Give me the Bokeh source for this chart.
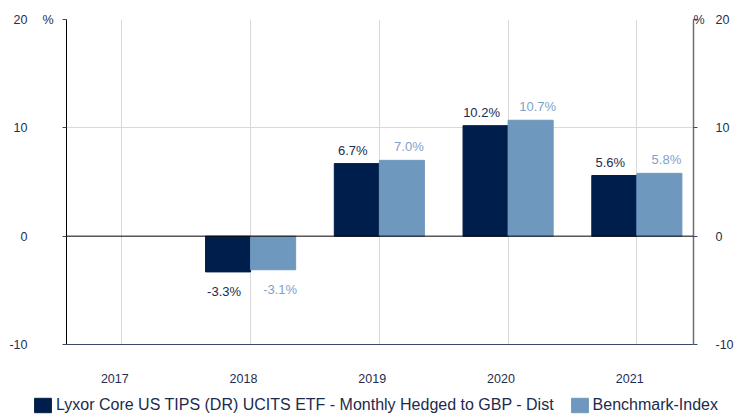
from bokeh.plotting import figure
from bokeh.layouts import column
from bokeh.models import (Range1d, LinearAxis, FixedTicker, CustomJSTickFormatter,
                          Span, Legend, LegendItem, ColumnDataSource)
from bokeh.transform import dodge
from bokeh.core.properties import value
from bokeh.embed import file_html
from bokeh.resources import INLINE

# ---- data ----
years = ["2017", "2018", "2019", "2020", "2021"]
fund_name = "Lyxor Core US TIPS (DR) UCITS ETF - Monthly Hedged to GBP - Dist"
bench_name = "Benchmark-Index"
fund = [None, -3.3, 6.7, 10.2, 5.6]
bench = [None, -3.1, 7.0, 10.7, 5.8]
y_ticks = [-10, 0, 10, 20]

DARK = "#001e4b"
LIGHT = "#6f98bf"
DARK_TXT = "#1b2b4d"
LIGHT_TXT = "#7fa0c9"
AXIS_TXT = "#1f2d50"
FONT = "Liberation Sans"

idx = [i for i, v in enumerate(fund) if v is not None]
src = ColumnDataSource(dict(
    x=idx,
    fund=[fund[i] for i in idx],
    bench=[bench[i] for i in idx],
))

def label_src(vals, positive):
    xs, ys, ts = [], [], []
    for i, v in enumerate(vals):
        if v is None:
            continue
        if (v >= 0) == positive:
            xs.append(i); ys.append(v); ts.append(f"{v:.1f}%")
    return ColumnDataSource(dict(x=xs, y=ys, t=ts))

p = figure(width=736, height=396, output_backend="svg", toolbar_location=None,
           x_range=Range1d(-0.43, 4.44), y_range=Range1d(-10, 20),
           min_border_left=66, min_border_right=42, min_border_top=19,
           min_border_bottom=52)
p.outline_line_color = None
p.background_fill_color = "white"
p.border_fill_color = "white"
p.frame_align = False

# grids
p.xgrid[0].ticker = FixedTicker(ticks=list(range(len(years))))
p.ygrid[0].ticker = FixedTicker(ticks=[10, 20])
for g in (p.xgrid[0], p.ygrid[0]):
    g.grid_line_color = "#d9d9d9"
    g.grid_line_width = 1

# bottom axis (years)
xa = p.xaxis[0]
xa.ticker = FixedTicker(ticks=[i - 0.055 for i in range(len(years))])
xa.formatter = CustomJSTickFormatter(args=dict(labels=years),
                                     code="return labels[Math.round(tick)];")
xa.major_tick_line_color = None
xa.minor_tick_line_color = None
xa.axis_line_color = "#3a4868"
xa.major_label_standoff = 23
xa.major_label_text_font = FONT
xa.major_label_text_font_size = "12.5px"
xa.major_label_text_color = AXIS_TXT

pct_fmt = CustomJSTickFormatter(code="return tick == 20 ? '%' : '';")
num_fmt = CustomJSTickFormatter(code="return String(tick);")

# left inner axis (line, ticks, '%')
ya = p.yaxis[0]
ya.ticker = FixedTicker(ticks=y_ticks)
ya.formatter = pct_fmt
ya.axis_line_color = "black"
ya.major_tick_line_color = "#3a4868"
ya.major_tick_out = 4
ya.major_tick_in = 0
ya.minor_tick_line_color = None
ya.major_label_standoff = 9
ya.major_label_text_font = FONT
ya.major_label_text_font_size = "12.5px"
ya.major_label_text_color = AXIS_TXT

def num_axis(standoff):
    a = LinearAxis(ticker=FixedTicker(ticks=y_ticks), formatter=num_fmt)
    a.axis_line_color = None
    a.major_tick_line_color = None
    a.minor_tick_line_color = None
    a.major_tick_out = 0
    a.major_tick_in = 0
    a.major_label_standoff = standoff
    a.major_label_text_font = FONT
    a.major_label_text_font_size = "12.5px"
    a.major_label_text_color = AXIS_TXT
    return a

p.add_layout(num_axis(12), "left")

# right inner axis
ra = LinearAxis(ticker=FixedTicker(ticks=y_ticks), formatter=pct_fmt)
ra.axis_line_color = "#6f6f6f"
ra.axis_line_width = 1.5
ra.major_tick_line_color = "#3a4868"
ra.major_tick_out = 4
ra.major_tick_in = 0
ra.major_label_standoff = -4
ra.minor_tick_line_color = None
ra.major_label_text_font = FONT
ra.major_label_text_font_size = "12.5px"
ra.major_label_text_color = AXIS_TXT
p.add_layout(ra, "right")
p.add_layout(num_axis(8), "right")

# bars
W = 0.35
r1 = p.vbar(x=dodge("x", -W / 2, range=p.x_range), top="fund", bottom=0, width=W,
            source=src, fill_color=DARK, line_color=DARK)
r2 = p.vbar(x=dodge("x", W / 2, range=p.x_range), top="bench", bottom=0, width=W,
            source=src, fill_color=LIGHT, line_color=LIGHT)

p.add_layout(Span(location=0, dimension="width", line_color="black", line_width=1))

# value labels
for vals, off, col, xo in ((fund, -W / 2, DARK_TXT, -4), (bench, W / 2, LIGHT_TXT, 7)):
    for positive in (True, False):
        s = label_src(vals, positive)
        p.text(x=dodge("x", off, range=p.x_range), y="y", text="t", source=s,
               text_align="center",
               text_baseline="bottom" if positive else "top",
               x_offset=xo, y_offset=-6 if positive else 12,
               text_font=value(FONT), text_font_size="13px", text_color=col)

# ---- legend strip (separate figure below the chart) ----
lg = figure(width=736, height=18, output_backend="svg", toolbar_location=None,
            x_axis_location=None, y_axis_location=None,
            min_border_left=0, min_border_right=0, min_border_top=0,
            min_border_bottom=0, x_range=Range1d(0, 1), y_range=Range1d(0, 1))
lg.outline_line_color = None
lg.frame_align = False
lg.xgrid.visible = False
lg.ygrid.visible = False
hidden = ColumnDataSource(dict(x=[10], top=[1]))
l1 = lg.vbar(x="x", top="top", width=1, source=hidden, fill_color=DARK, line_color=DARK)
l2 = lg.vbar(x="x", top="top", width=1, source=hidden, fill_color=LIGHT, line_color=LIGHT)

legend = Legend(items=[LegendItem(label=fund_name, renderers=[l1]),
                       LegendItem(label=bench_name, renderers=[l2])],
                location=(32, 0), orientation="horizontal")
legend.glyph_width = 21
legend.glyph_height = 18
legend.label_height = 18
legend.label_standoff = 3
legend.spacing = 15
legend.padding = 0
legend.margin = 0
legend.border_line_color = None
legend.background_fill_alpha = 0
legend.label_text_font = FONT
legend.label_text_font_size = "16px"
legend.label_text_color = DARK_TXT
legend.label_text_baseline = "middle"
lg.add_layout(legend, "center")

layout = column(p, lg, spacing=0)
open("out.html", "w").write(file_html(layout, INLINE))
